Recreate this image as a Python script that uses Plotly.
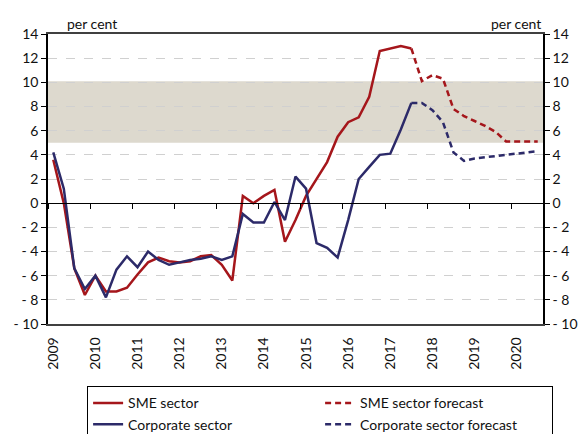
import plotly.graph_objects as go

# Quarterly data 2009Q1 .. 2020Q3
quarters = [f"{y}Q{q}" for y in range(2009, 2021) for q in range(1, 5)][:47]

sme_actual = [3.6, 0.0, -5.4, -7.6, -6.0, -7.3, -7.3, -7.0, -5.9, -4.9,
              -4.5, -4.8, -4.9, -4.8, -4.4, -4.3, -5.1, -6.4, 0.6, 0.0,
              0.6, 1.1, -3.2, -1.4, 0.6, 2.0, 3.4, 5.5, 6.7, 7.1,
              8.8, 12.6, 12.8, 13.0, 12.8]
corp_actual = [4.2, 1.2, -5.4, -7.1, -6.0, -7.8, -5.5, -4.4, -5.3, -4.0,
               -4.7, -5.1, -4.9, -4.7, -4.6, -4.4, -4.7, -4.4, -0.9, -1.6,
               -1.6, 0.1, -1.4, 2.2, 1.2, -3.3, -3.7, -4.5, -1.4, 2.0,
               3.0, 4.0, 4.1, 6.1, 8.3]
sme_forecast = [12.8, 10.1, 10.6, 10.3, 7.8, 7.2, 6.8, 6.4, 5.9, 5.1, 5.1, 5.1, 5.1]
corp_forecast = [8.3, 8.3, 7.7, 6.7, 4.2, 3.5, 3.7, 3.8, 3.9, 4.0, 4.1, 4.2, 4.3]

year_labels = [str(y) for y in range(2009, 2021)]
y_ticks = list(range(-10, 15, 2))
y_ticktext = [("- " + str(-v)) if v < 0 else str(v) for v in y_ticks]
band_low, band_high = 5.0, 10.1

RED = "#A5161B"
NAVY = "#2C2A69"
FONT = "Lato"

n = len(quarters)
x_act = list(range(len(sme_actual)))
x_fc = list(range(len(sme_actual) - 1, n))
year_pos = [i for i, q in enumerate(quarters) if q.endswith("Q1")]
year_bounds = [i - 0.5 for i in year_pos] + [n - 0.5]
xr = [-0.5, n - 0.5]

fig = go.Figure()
fig.add_trace(go.Scatter(x=x_act, y=sme_actual, mode="lines", name="SME sector",
                         line=dict(color=RED, width=2.5)))
fig.add_trace(go.Scatter(x=x_fc, y=sme_forecast, mode="lines", name="SME sector forecast",
                         line=dict(color=RED, width=2.5, dash="6px,4px")))
fig.add_trace(go.Scatter(x=x_act, y=corp_actual, mode="lines", name="Corporate sector",
                         line=dict(color=NAVY, width=2.5)))
fig.add_trace(go.Scatter(x=x_fc, y=corp_forecast, mode="lines", name="Corporate sector forecast",
                         line=dict(color=NAVY, width=2.5, dash="6px,4px")))
# invisible helper so the secondary axes are drawn
fig.add_trace(go.Scatter(x=[0], y=[0], xaxis="x2", yaxis="y2", mode="markers",
                         marker=dict(opacity=0), showlegend=False, hoverinfo="skip"))

fig.add_shape(type="rect", xref="x domain", yref="y", x0=0, x1=1, y0=band_low, y1=band_high,
              fillcolor="#DDD9CE", line=dict(width=0), layer="below")

fig.update_layout(
    width=586, height=434,
    margin=dict(l=48, r=43, t=34, b=110, autoexpand=False),
    paper_bgcolor="white", plot_bgcolor="white",
    font=dict(family=FONT, size=14, color="#111111"),
    showlegend=True,
    legend=dict(orientation="h", x=0.079, xanchor="left", y=-0.215, yanchor="top",
                bordercolor="#000000", borderwidth=1, bgcolor="white",
                entrywidth=187, font=dict(family=FONT, size=14), tracegroupgap=0,
                itemwidth=30),
    xaxis=dict(range=xr, tickvals=year_pos, ticktext=year_labels, tickangle=-90,
               ticks="", showline=True, linecolor="#404040", linewidth=1.5,
               mirror=True, showgrid=False, zeroline=False, ticklabelstandoff=6,
               tickfont=dict(size=14)),
    xaxis2=dict(range=xr, overlaying="x", anchor="free", position=10 / 24,
                side="bottom", tickvals=year_bounds, showticklabels=False,
                ticks="outside", ticklen=5, tickwidth=1.3, tickcolor="#000000",
                showline=True, linecolor="#000000", linewidth=1.3,
                showgrid=False, zeroline=False),
    yaxis=dict(range=[-10, 14], tickvals=y_ticks, ticktext=y_ticktext,
               ticks="outside", ticklen=5, tickcolor="#000000", showline=True,
               linecolor="#000000", linewidth=1.5, showgrid=True,
               gridcolor="#D0D0D0", griddash="dash", gridwidth=1, zeroline=False,
               tickfont=dict(size=14)),
    yaxis2=dict(range=[-10, 14], overlaying="y", side="right", anchor="x",
                tickvals=y_ticks, ticktext=y_ticktext, ticks="outside", ticklen=5,
                tickcolor="#000000", showline=True, linecolor="#000000", linewidth=1.5,
                showgrid=False, zeroline=False, tickfont=dict(size=14)),
    annotations=[
        dict(text="per cent", xref="paper", yref="paper", x=0.034, y=1.0, yshift=0,
             xanchor="left", yanchor="bottom", showarrow=False, font=dict(size=14)),
        dict(text="per cent", xref="paper", yref="paper", x=1.0, y=1.0, yshift=0,
             xanchor="right", yanchor="bottom", showarrow=False, font=dict(size=14)),
    ],
)

fig.write_html("out.html", config={"displayModeBar": False},
               post_script="document.body.style.margin='0px';")
